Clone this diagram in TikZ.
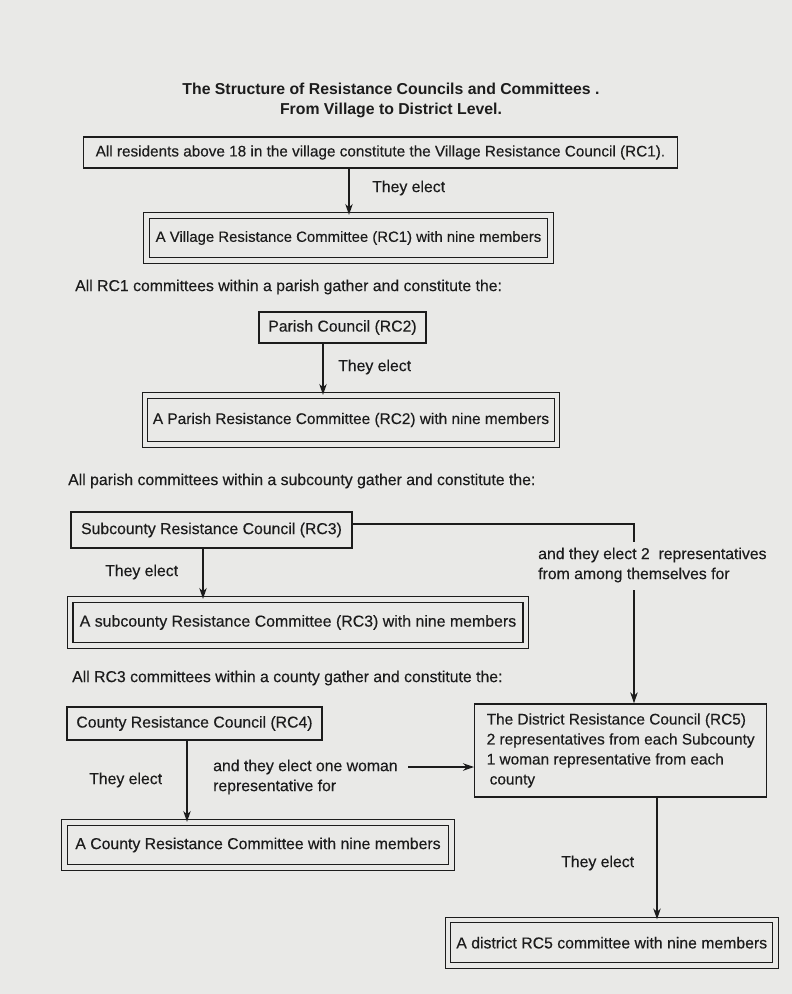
\documentclass[tikz,border=0pt]{standalone}
\usepackage{fontspec}
\setmainfont{Liberation Sans}[UprightFeatures={FakeBold=0.3}]
\usetikzlibrary{arrows.meta}
\definecolor{paper}{RGB}{233,233,231}
\definecolor{ink}{RGB}{28,28,28}
\newcommand{\fs}[1]{\fontsize{#1}{20}\selectfont}
\begin{document}
\begin{tikzpicture}[x=1pt,y=-1pt,
  box/.style={draw=ink, line width=1.4pt, inner sep=0pt, text=ink, font=\fs{15.8}},
  dbox/.style={draw=ink, double=paper, double distance=4.2pt, line width=1.3pt, inner sep=0pt, text=ink, font=\fs{15.8}},
  arr/.style={draw=ink, line width=1.2pt, -{Stealth[length=11pt,width=7.5pt]}},
  conn/.style={draw=ink, line width=1.2pt},
  lbl/.style={text=ink, inner sep=0pt, anchor=west, align=left, font=\fs{15.8}}
]
\fill[paper] (0,0) rectangle (792,994);
\useasboundingbox (0,0) rectangle (792,994);

% title
\node[text=ink, inner sep=0pt, align=center, font=\bfseries\fs{15.8}] (title) at (391,100)
  {The Structure of Resistance Councils and Committees .\\From Village to District Level.};

% village level
\node[box, anchor=west, inner xsep=12pt, minimum height=31pt, font=\fs{15.3}] (n1) at (83,152.5)
  {All residents above 18 in the village constitute the Village Resistance Council (RC1).};
\node[dbox, minimum width=404pt, minimum height=45pt, font=\fs{14.9}] (c1) at (348.5,238)
  {A Village Resistance Committee (RC1) with nine members};
\coordinate (v1) at (349,0);
\draw[arr] (n1.south -| v1) -- (c1.north -| v1);
\node[lbl] (e1) at (372,188) {They elect};

% parish level
\node[lbl] (t1) at (75,287) {All RC1 committees within a parish gather and constitute the:};
\node[box, minimum width=167pt, minimum height=31pt] (p) at (342.5,327.5) {Parish Council (RC2)};
\node[dbox, minimum width=412pt, minimum height=49pt, font=\fs{15.4}] (c2) at (351,420)
  {A Parish Resistance Committee (RC2) with nine members};
\coordinate (v2) at (323,0);
\draw[arr] (p.south -| v2) -- (c2.north -| v2);
\node[lbl] (e2) at (338,367) {They elect};

% subcounty level
\node[lbl] (t2) at (68,481) {All parish committees within a subcounty gather and constitute the:};
\node[box, minimum width=281pt, minimum height=36pt] (s) at (211.5,530) {Subcounty Resistance Council (RC3)};
\node[dbox, minimum width=455.5pt, minimum height=46pt, font=\fs{15.9}] (c3) at (298,622.5)
  {A subcounty Resistance Committee (RC3) with nine members};
\coordinate (v3) at (203,0);
\draw[arr] (s.south -| v3) -- (c3.north -| v3);
\node[lbl] (e3) at (105,572) {They elect};

% district council
\node[box, anchor=west, minimum height=93pt, inner xsep=12pt, align=left, font=\fs{15.4}] (r5) at (474,750.5)
  {The District Resistance Council (RC5)\\2 representatives from each Subcounty\\1 woman representative from each\\\hspace{3pt}county};

\coordinate (k1) at (634,524);
\coordinate (k2) at (634,542);
\coordinate (k3) at (634,590);
\draw[conn] (s.east |- k1) -- (k1) -- (k2);
\node[lbl] (e4) at (538,565) {and they elect 2\ \ representatives\\from among themselves for};
\draw[arr] (k3) -- (r5.north -| k3);

% county level
\node[lbl] (t3) at (72,678) {All RC3 committees within a county gather and constitute the:};
\node[box, minimum width=255pt, minimum height=33pt] (co) at (194.5,723.5) {County Resistance Council (RC4)};
\node[dbox, minimum width=387pt, minimum height=45pt] (c4) at (258,845)
  {A County Resistance Committee with nine members};
\coordinate (v4) at (187,0);
\draw[arr] (co.south -| v4) -- (c4.north -| v4);
\node[lbl] (e5) at (89,780) {They elect};
\node[lbl] (e6) at (213,777) {and they elect one woman\\representative for};
\coordinate (k4) at (408,767);
\draw[arr] (k4) -- (r5.west |- k4);

% district committee
\node[dbox, minimum width=327.5pt, minimum height=45.5pt, font=\fs{15.8}] (c5) at (611.75,942.75)
  {A district RC5 committee with nine members};
\coordinate (v5) at (657,0);
\draw[arr] (r5.south -| v5) -- (c5.north -| v5);
\node[lbl] (e7) at (561,863) {They elect};
\end{tikzpicture}
\end{document}
